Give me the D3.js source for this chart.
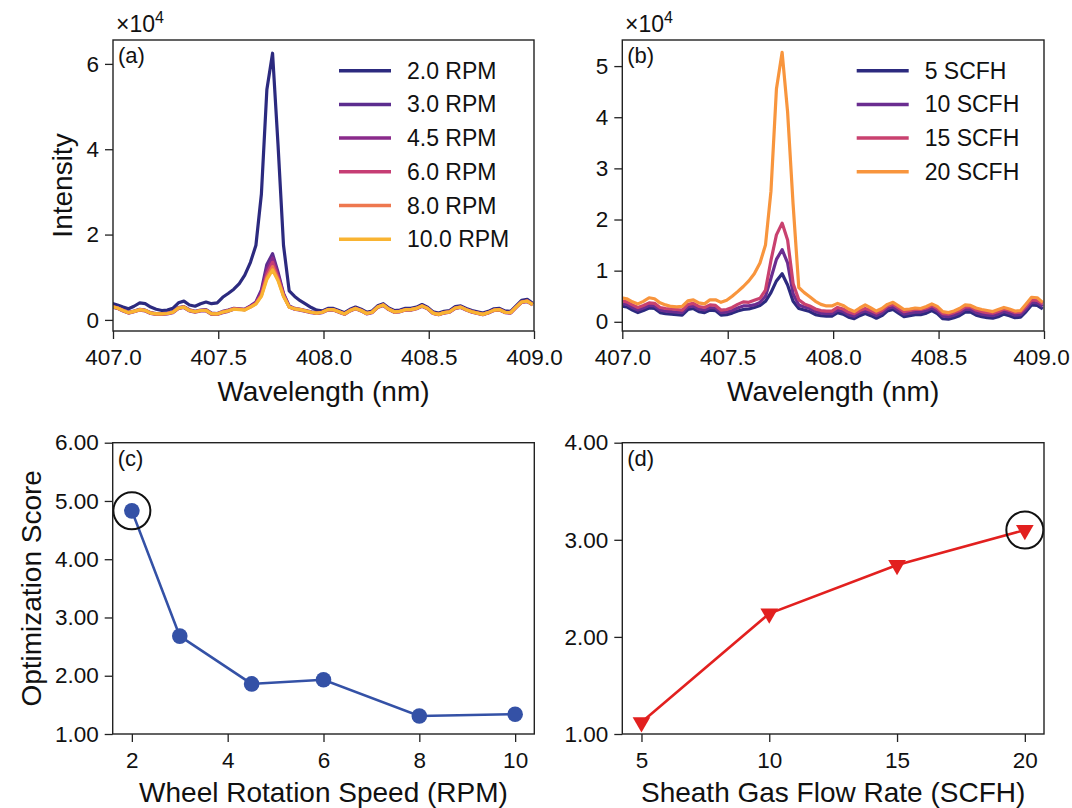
<!DOCTYPE html>
<html lang="en">
<head>
<meta charset="utf-8">
<title>Spectra and optimization scores</title>
<script src="https://cdn.jsdelivr.net/npm/d3@7"></script>
<style>
  body { margin: 0; background: #fff; }
  svg text { font-family: "Liberation Sans", Arial, Helvetica, sans-serif; fill: #111; }
</style>
</head>
<body>
<svg width="1072" height="808"></svg>
<script>
// ---- data ----
// wavelength grid (nm)
var wavelength = [406.995,407.021,407.048,407.074,407.100,407.127,407.153,407.179,407.205,407.232,
  407.258,407.284,407.311,407.337,407.363,407.390,407.416,407.442,407.468,407.495,
  407.521,407.547,407.574,407.600,407.626,407.653,407.679,407.705,407.731,407.758,
  407.784,407.810,407.837,407.863,407.889,407.916,407.942,407.968,407.994,408.021,
  408.047,408.073,408.100,408.126,408.152,408.179,408.205,408.231,408.257,408.284,
  408.310,408.336,408.363,408.389,408.415,408.442,408.468,408.494,408.520,408.547,
  408.573,408.599,408.626,408.652,408.678,408.705,408.731,408.757,408.783,408.810,
  408.836,408.862,408.889,408.915,408.941,408.968,408.994];

// panel (a): intensity (x1e4) at each wheel speed
var rpm2_0 = [0.39,0.35,0.30,0.26,0.32,0.40,0.38,0.30,0.25,0.22,
  0.23,0.27,0.40,0.44,0.35,0.32,0.38,0.42,0.38,0.40,
  0.53,0.62,0.72,0.85,1.05,1.35,1.75,2.95,5.40,6.25,
  4.10,1.75,0.68,0.55,0.45,0.37,0.29,0.23,0.21,0.27,
  0.27,0.22,0.17,0.25,0.30,0.25,0.18,0.21,0.33,0.38,
  0.28,0.22,0.23,0.27,0.27,0.30,0.36,0.30,0.19,0.16,
  0.20,0.22,0.31,0.33,0.27,0.22,0.19,0.16,0.20,0.26,
  0.27,0.21,0.20,0.33,0.46,0.48,0.39];
var rpm3_0 = [0.33,0.29,0.23,0.18,0.21,0.25,0.23,0.17,0.15,0.15,
  0.16,0.19,0.29,0.31,0.24,0.20,0.23,0.24,0.16,0.15,
  0.20,0.23,0.27,0.26,0.25,0.33,0.42,0.70,1.30,1.55,
  1.12,0.62,0.33,0.27,0.25,0.22,0.19,0.17,0.19,0.25,
  0.25,0.20,0.15,0.23,0.28,0.23,0.16,0.19,0.31,0.36,
  0.26,0.20,0.21,0.25,0.25,0.28,0.34,0.28,0.17,0.14,
  0.18,0.20,0.29,0.31,0.25,0.20,0.17,0.14,0.18,0.24,
  0.25,0.19,0.18,0.31,0.43,0.45,0.37];
var rpm4_5 = [0.30,0.27,0.21,0.16,0.19,0.23,0.21,0.15,0.13,0.13,
  0.14,0.17,0.27,0.29,0.21,0.18,0.21,0.21,0.13,0.13,
  0.17,0.20,0.25,0.25,0.24,0.32,0.40,0.65,1.18,1.45,
  1.05,0.60,0.31,0.25,0.23,0.20,0.17,0.15,0.17,0.23,
  0.23,0.18,0.13,0.21,0.26,0.21,0.14,0.17,0.29,0.34,
  0.24,0.18,0.19,0.23,0.23,0.26,0.32,0.26,0.15,0.12,
  0.16,0.18,0.27,0.29,0.23,0.18,0.15,0.12,0.16,0.22,
  0.23,0.17,0.16,0.29,0.41,0.43,0.35];
var rpm6_0 = [0.31,0.28,0.22,0.17,0.20,0.24,0.22,0.16,0.14,0.14,
  0.15,0.18,0.28,0.30,0.22,0.19,0.22,0.22,0.14,0.14,
  0.18,0.21,0.26,0.25,0.24,0.31,0.39,0.60,1.08,1.35,
  1.00,0.58,0.31,0.26,0.24,0.21,0.18,0.16,0.18,0.24,
  0.24,0.19,0.14,0.22,0.27,0.22,0.15,0.18,0.30,0.35,
  0.25,0.19,0.20,0.24,0.24,0.27,0.33,0.27,0.16,0.13,
  0.17,0.19,0.28,0.30,0.24,0.19,0.16,0.13,0.17,0.23,
  0.24,0.18,0.17,0.30,0.42,0.44,0.36];
var rpm8_0 = [0.32,0.28,0.22,0.17,0.20,0.24,0.22,0.16,0.14,0.14,
  0.15,0.18,0.28,0.30,0.23,0.19,0.22,0.23,0.15,0.14,
  0.19,0.22,0.26,0.25,0.24,0.30,0.38,0.57,1.00,1.25,
  0.95,0.56,0.30,0.26,0.24,0.21,0.18,0.16,0.18,0.24,
  0.24,0.19,0.14,0.22,0.27,0.22,0.15,0.18,0.30,0.35,
  0.25,0.19,0.20,0.24,0.24,0.27,0.33,0.27,0.16,0.13,
  0.17,0.19,0.28,0.30,0.24,0.19,0.16,0.13,0.17,0.23,
  0.24,0.18,0.17,0.30,0.42,0.44,0.36];
var rpm10_0 = [0.31,0.28,0.22,0.17,0.20,0.24,0.22,0.16,0.14,0.14,
  0.15,0.18,0.28,0.30,0.22,0.19,0.22,0.22,0.14,0.14,
  0.18,0.21,0.25,0.24,0.23,0.30,0.37,0.55,0.95,1.17,
  0.92,0.55,0.30,0.26,0.24,0.21,0.18,0.16,0.18,0.24,
  0.24,0.19,0.14,0.22,0.27,0.22,0.15,0.18,0.30,0.35,
  0.25,0.19,0.20,0.24,0.24,0.27,0.33,0.27,0.16,0.13,
  0.17,0.19,0.28,0.30,0.24,0.19,0.16,0.13,0.17,0.23,
  0.24,0.18,0.17,0.30,0.42,0.44,0.36];
var rpmLabels = ["2.0 RPM", "3.0 RPM", "4.5 RPM", "6.0 RPM", "8.0 RPM", "10.0 RPM"];
var rpmColors = ["#2c2a7f", "#5c2d8f", "#8a2a8b", "#c63d74", "#ee784f", "#f9b432"];

// panel (b): intensity (x1e4) at each sheath gas flow
var scfh5 = [0.31,0.29,0.23,0.18,0.22,0.27,0.26,0.18,0.16,0.15,
  0.14,0.13,0.24,0.26,0.20,0.18,0.23,0.22,0.13,0.14,
  0.17,0.21,0.24,0.25,0.28,0.32,0.40,0.57,0.80,0.94,
  0.72,0.40,0.26,0.23,0.20,0.14,0.12,0.11,0.11,0.18,
  0.15,0.09,0.06,0.12,0.16,0.12,0.07,0.12,0.21,0.24,
  0.17,0.10,0.12,0.14,0.14,0.17,0.22,0.16,0.06,0.05,
  0.08,0.12,0.19,0.19,0.13,0.10,0.08,0.07,0.10,0.15,
  0.12,0.08,0.09,0.20,0.33,0.32,0.25];
var scfh10 = [0.36,0.34,0.28,0.23,0.27,0.32,0.31,0.23,0.21,0.20,
  0.19,0.18,0.29,0.31,0.25,0.23,0.28,0.27,0.18,0.19,
  0.22,0.27,0.31,0.31,0.33,0.38,0.50,0.85,1.22,1.41,
  1.15,0.55,0.33,0.29,0.26,0.20,0.17,0.16,0.16,0.23,
  0.20,0.14,0.11,0.17,0.21,0.17,0.12,0.17,0.26,0.29,
  0.22,0.15,0.17,0.19,0.19,0.22,0.27,0.21,0.11,0.10,
  0.13,0.17,0.24,0.24,0.18,0.15,0.13,0.12,0.15,0.20,
  0.17,0.13,0.14,0.25,0.38,0.37,0.30];
var scfh15 = [0.41,0.39,0.33,0.28,0.32,0.37,0.36,0.28,0.26,0.25,
  0.24,0.23,0.34,0.36,0.30,0.28,0.33,0.32,0.23,0.24,
  0.28,0.34,0.39,0.38,0.42,0.46,0.62,1.20,1.70,1.93,
  1.60,0.75,0.43,0.35,0.31,0.25,0.22,0.21,0.21,0.28,
  0.25,0.19,0.16,0.22,0.26,0.22,0.17,0.22,0.31,0.34,
  0.27,0.20,0.22,0.24,0.24,0.27,0.32,0.26,0.16,0.15,
  0.18,0.22,0.29,0.29,0.23,0.20,0.18,0.17,0.20,0.25,
  0.22,0.18,0.19,0.30,0.43,0.42,0.35];
var scfh20 = [0.47,0.45,0.39,0.35,0.40,0.47,0.45,0.37,0.33,0.30,
  0.29,0.30,0.41,0.43,0.37,0.35,0.43,0.43,0.38,0.42,
  0.50,0.59,0.69,0.80,0.94,1.15,1.50,2.55,4.55,5.27,
  4.10,2.30,0.67,0.57,0.49,0.40,0.34,0.31,0.31,0.36,
  0.32,0.25,0.20,0.27,0.33,0.27,0.21,0.26,0.34,0.38,
  0.31,0.24,0.25,0.27,0.26,0.30,0.35,0.30,0.20,0.18,
  0.21,0.26,0.33,0.32,0.27,0.24,0.22,0.20,0.24,0.28,
  0.25,0.21,0.22,0.35,0.48,0.47,0.38];
var scfhLabels = ["5 SCFH", "10 SCFH", "15 SCFH", "20 SCFH"];
var scfhColors = ["#2c2a7f", "#6a2d90", "#c9416f", "#f8953d"];

// panel (c): optimization score vs wheel speed
var wheelSpeed = [2, 3, 4.5, 6, 8, 10];
var wheelScore = [4.83, 2.68, 1.86, 1.93, 1.31, 1.34];
// panel (d): optimization score vs sheath gas flow
var gasFlow = [5, 10, 15, 20];
var gasScore = [1.12, 2.24, 2.74, 3.10];

// tick values
var wlTicks = [407.0, 407.5, 408.0, 408.5, 409.0];
var intTicksA = [0, 2, 4, 6];
var intTicksB = [0, 1, 2, 3, 4, 5];
var speedTicks = [2, 4, 6, 8, 10];
var scoreTicksC = [1, 2, 3, 4, 5, 6];
var flowTicks = [5, 10, 15, 20];
var scoreTicksD = [1, 2, 3, 4];

// ---- layout ----
var svg = d3.select("svg");
svg.append("rect").attr("width", 1072).attr("height", 808).attr("fill", "#fff");

var boxA = {l: 113, r: 534, t: 40, b: 331},
    boxB = {l: 622.3, r: 1044, t: 40, b: 331},
    boxC = {l: 112.7, r: 534.3, t: 442.7, b: 734},
    boxD = {l: 622.3, r: 1044, t: 442.7, b: 734};

var xA = d3.scaleLinear().domain([407, 409]).range([boxA.l, boxA.r]);
var yA = d3.scaleLinear().domain([-0.26, 6.56]).range([boxA.b, boxA.t]);
var xB = d3.scaleLinear().domain([407, 409]).range([boxB.l, boxB.r]);
var yB = d3.scaleLinear().domain([-0.18, 5.51]).range([boxB.b, boxB.t]);
var xC = d3.scaleLinear().domain([1.6, 10.4]).range([boxC.l, boxC.r]);
var yC = d3.scaleLinear().domain([1, 6]).range([boxC.b, boxC.t]);
var xD = d3.scaleLinear().domain([4.25, 20.75]).range([boxD.l, boxD.r]);
var yD = d3.scaleLinear().domain([1, 4]).range([boxD.b, boxD.t]);

function styleAxis(g) {
  g.attr("font-size", null).attr("font-family", null);
  g.select(".domain").remove();
  g.selectAll(".tick line").attr("stroke", "#222").attr("stroke-width", 1.3);
  g.selectAll(".tick text").style("font-size", "22.5px").attr("fill", "#111");
}

function drawAxes(box, x, y, xt, yt, xfmt, yfmt, id) {
  svg.append("clipPath").attr("id", id)
    .append("rect").attr("x", box.l).attr("y", box.t)
    .attr("width", box.r - box.l).attr("height", box.b - box.t);

  var gx = svg.append("g")
    .attr("transform", "translate(0," + box.b + ")")
    .call(d3.axisBottom(x).tickValues(xt).tickFormat(xfmt).tickSize(8).tickPadding(10))
    .call(styleAxis);
  // keep the right-most label inside the page
  gx.selectAll(".tick text")
    .attr("dx", function(d) { return x(d) + 30 > 1071 ? 1071 - 30 - x(d) : 0; });

  svg.append("g")
    .attr("transform", "translate(" + box.l + ",0)")
    .call(d3.axisLeft(y).tickValues(yt).tickFormat(yfmt).tickSize(8).tickPadding(6))
    .call(styleAxis);
}

function drawFrame(box) {
  svg.append("rect")
    .attr("x", box.l).attr("y", box.t)
    .attr("width", box.r - box.l).attr("height", box.b - box.t)
    .attr("fill", "none").attr("stroke", "#222").attr("stroke-width", 1.4);
}

function drawSpectra(series, colors, x, y, id) {
  var line = d3.line()
    .x(function(d, i) { return x(wavelength[i]); })
    .y(function(d) { return y(d); });
  svg.append("g").attr("clip-path", "url(#" + id + ")")
    .selectAll("path")
    .data(series)
    .enter().append("path")
      .attr("d", line)
      .attr("fill", "none")
      .attr("stroke", function(d, i) { return colors[i]; })
      .attr("stroke-width", 3.2)
      .attr("stroke-linejoin", "round");
}

function drawLegend(labels, colors, x0, y0) {
  var g = svg.append("g");
  labels.forEach(function(lab, i) {
    var yy = y0 + i * 33.7;
    g.append("line")
      .attr("x1", x0).attr("x2", x0 + 52)
      .attr("y1", yy).attr("y2", yy)
      .attr("stroke", colors[i]).attr("stroke-width", 3.5);
    g.append("text")
      .attr("x", x0 + 68).attr("y", yy + 8)
      .style("font-size", "23px")
      .text(lab);
  });
}

function multiplier(x0) {
  var t = svg.append("text").attr("x", x0).attr("y", 32).style("font-size", "23px");
  t.append("tspan").text("\u00d710");
  t.append("tspan").attr("dy", -9).style("font-size", "16px").text("4");
}

function panelTag(box, txt) {
  svg.append("text")
    .attr("x", box.l + 5).attr("y", box.t + 23)
    .style("font-size", "22px")
    .text(txt);
}

function xLabel(box, y0, txt) {
  svg.append("text")
    .attr("x", (box.l + box.r) / 2).attr("y", y0)
    .attr("text-anchor", "middle")
    .style("font-size", "28px")
    .text(txt);
}

function yLabel(box, x0, txt) {
  svg.append("text")
    .attr("transform", "translate(" + x0 + "," + (box.t + box.b) / 2 + ") rotate(-90)")
    .attr("text-anchor", "middle")
    .style("font-size", "28px")
    .text(txt);
}

var fmt1 = d3.format(".1f"), fmt0 = d3.format("d"), fmt2 = d3.format(".2f");

// ---- panel (a) ----
drawAxes(boxA, xA, yA, wlTicks, intTicksA, fmt1, fmt0, "clipA");
drawSpectra([rpm2_0, rpm3_0, rpm4_5, rpm6_0, rpm8_0, rpm10_0], rpmColors, xA, yA, "clipA");
drawFrame(boxA);
drawLegend(rpmLabels, rpmColors, 339, 70.7);
multiplier(116);
panelTag(boxA, "(a)");
xLabel(boxA, 401, "Wavelength (nm)");
yLabel(boxA, 72, "Intensity");

// ---- panel (b) ----
drawAxes(boxB, xB, yB, wlTicks, intTicksB, fmt1, fmt0, "clipB");
drawSpectra([scfh5, scfh10, scfh15, scfh20], scfhColors, xB, yB, "clipB");
drawFrame(boxB);
drawLegend(scfhLabels, scfhColors, 856.7, 70.7);
multiplier(625);
panelTag(boxB, "(b)");
xLabel(boxB, 401, "Wavelength (nm)");

// ---- panel (c) ----
drawAxes(boxC, xC, yC, speedTicks, scoreTicksC, fmt0, fmt2, "clipC");
var blue = "#3451a6";
svg.append("path")
  .datum(wheelScore)
  .attr("d", d3.line()
    .x(function(d, i) { return xC(wheelSpeed[i]); })
    .y(function(d) { return yC(d); }))
  .attr("fill", "none").attr("stroke", blue).attr("stroke-width", 2.6);
svg.selectAll(".ptC")
  .data(wheelScore)
  .enter().append("circle")
    .attr("class", "ptC")
    .attr("cx", function(d, i) { return xC(wheelSpeed[i]); })
    .attr("cy", function(d) { return yC(d); })
    .attr("r", 7.8)
    .attr("fill", blue);
// highlight best
var bestC = d3.maxIndex(wheelScore);
svg.append("circle")
  .attr("cx", xC(wheelSpeed[bestC])).attr("cy", yC(wheelScore[bestC]))
  .attr("r", 18.5).attr("fill", "none").attr("stroke", "#111").attr("stroke-width", 2);
drawFrame(boxC);
panelTag(boxC, "(c)");
xLabel(boxC, 802, "Wheel Rotation Speed (RPM)");
yLabel(boxC, 41, "Optimization Score");

// ---- panel (d) ----
drawAxes(boxD, xD, yD, flowTicks, scoreTicksD, fmt0, fmt2, "clipD");
var red = "#e2201f";
svg.append("path")
  .datum(gasScore)
  .attr("d", d3.line()
    .x(function(d, i) { return xD(gasFlow[i]); })
    .y(function(d) { return yD(d); }))
  .attr("fill", "none").attr("stroke", red).attr("stroke-width", 2.6);
svg.selectAll(".ptD")
  .data(gasScore)
  .enter().append("path")
    .attr("class", "ptD")
    .attr("d", d3.symbol().type(d3.symbolTriangle).size(135))
    .attr("transform", function(d, i) {
      return "translate(" + xD(gasFlow[i]) + "," + yD(d) + ") rotate(180)";
    })
    .attr("fill", red);
var bestD = d3.maxIndex(gasScore);
svg.append("circle")
  .attr("cx", xD(gasFlow[bestD])).attr("cy", yD(gasScore[bestD]))
  .attr("r", 18.5).attr("fill", "none").attr("stroke", "#111").attr("stroke-width", 2);
drawFrame(boxD);
panelTag(boxD, "(d)");
xLabel(boxD, 802, "Sheath Gas Flow Rate (SCFH)");
</script>
</body>
</html>
